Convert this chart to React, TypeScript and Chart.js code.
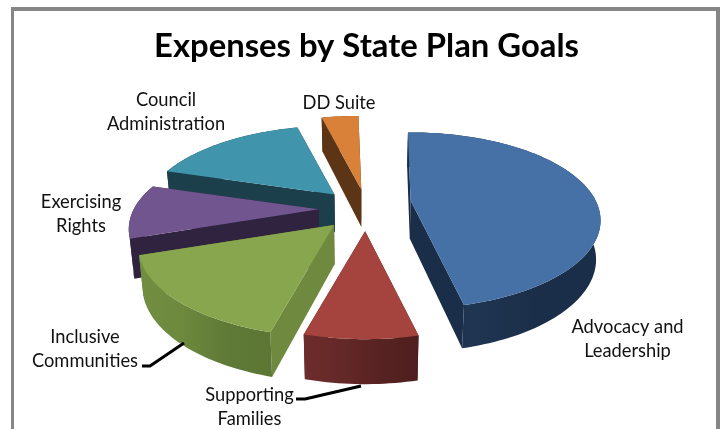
import React, { useEffect, useRef } from "react";
import { Chart, registerables } from "chart.js";

Chart.register(...registerables);

const categories = ["Advocacy and Leadership", "Supporting Families", "Inclusive Communities", "Exercising Rights", "Council Administration", "DD Suite"];
const values = [46.67, 7.78, 15.55, 10, 16.39, 3.61];
const explosion = [25, 25, 25, 25, 25, 25];
const topColors = ["#4571a6", "#a5443f", "#88a64d", "#71558f", "#4095ac", "#d98138"];
const wallColors = ["#1b2e49", "#4f1e1e", "#6f8a3f", "#2f2340", "#1c3f4c", "#5b3516"];
const rimStops = [
  ["#1b2e49", "#1f3552", "#1b2e49", "#1b2e49"],
  ["#6e2c2c", "#642828", "#582222", "#4f1e1e"],
  ["#728e41", "#6d893e", "#5f7a36", "#5c7634"],
  ["#2f2340", "#2f2340", "#2f2340", "#2f2340"],
  ["#1c3f4c", "#1c3f4c", "#1c3f4c", "#1c3f4c"],
  ["#5b3516", "#5b3516", "#5b3516", "#5b3516"],
];
const nudgeX = [0, 1, 2, 0, 0, 2];
const nudgeY = [-6, 0, 0, 0, 0, 0];
const reach = [1, 1, 1.03, 1, 1.01, 1.1];
const paintOrder = [4, 5, 3, 2, 1, 0];
const sliceLabels = [
  { lines: ["Advocacy and", "Leadership"], x: 627.5, y: 333 },
  { lines: ["Supporting", "Families"], x: 249.5, y: 401 },
  { lines: ["Inclusive", "Communities"], x: 85, y: 343 },
  { lines: ["Exercising", "Rights"], x: 81, y: 208 },
  { lines: ["Council", "Administration"], x: 166, y: 106 },
  { lines: ["DD Suite"], x: 339, y: 109 },
];
const leaders = [
  [[142, 366], [150, 366], [184, 343]],
  [[296, 399], [305, 399], [361, 386]],
];

const ORIGIN = { x: 365, y: 209 };
const SCALE = { x: 185, y: 83.5, k: 0.227 };

function project(u: number, v: number) {
  const w = 1 - SCALE.k * v;
  return { x: ORIGIN.x + (SCALE.x * u) / w, y: ORIGIN.y + (SCALE.y * v) / w };
}
function drop(p: { x: number; y: number }) {
  const depth = 34 + 0.05 * (p.y - 119);
  return { x: ORIGIN.x + (p.x - ORIGIN.x) * 0.981, y: p.y + depth };
}
function poly(ctx: CanvasRenderingContext2D, pts: { x: number; y: number }[], fill: any) {
  ctx.beginPath();
  pts.forEach((p, i) => (i ? ctx.lineTo(p.x, p.y) : ctx.moveTo(p.x, p.y)));
  ctx.closePath();
  ctx.fillStyle = fill;
  ctx.fill();
}

const framePlugin = {
  id: "frame",
  beforeDraw(chart: any) {
    const ctx = chart.ctx;
    ctx.save();
    ctx.fillStyle = "#ffffff";
    ctx.fillRect(0, 0, chart.width, chart.height);
    ctx.fillStyle = "#868686";
    ctx.fillRect(11, 7, 709, 4);
    ctx.fillRect(11, 7, 3, 422);
    ctx.fillRect(716, 7, 4, 422);
    ctx.restore();
  },
};

const pie3dPlugin = {
  id: "pie3d",
  beforeDatasetDraw(chart: any, args: any) {
    const ctx = chart.ctx;
    const arcs = chart.getDatasetMeta(args.index).data;
    ctx.save();
    for (const i of paintOrder) {
      const arc = arcs[i];
      const mid = (arc.startAngle + arc.endAngle) / 2;
      const d = (arc.options.offset || 0) / 100;
      const base = project(Math.cos(mid) * d, Math.sin(mid) * d);
      const apex = { x: base.x + nudgeX[i], y: base.y + nudgeY[i] };
      // each slice keeps a local perspective about its own apex
      const local = (a: number) => {
        const q = project(Math.cos(a) * reach[i], Math.sin(a) * reach[i]);
        return { x: apex.x + q.x - ORIGIN.x, y: apex.y + q.y - ORIGIN.y };
      };
      const n = Math.max(8, Math.ceil((arc.endAngle - arc.startAngle) * 40));
      const rim: { x: number; y: number }[] = [];
      for (let s = 0; s <= n; s++) rim.push(local(arc.startAngle + ((arc.endAngle - arc.startAngle) * s) / n));
      const rimLow = rim.map(drop);
      const apexLow = drop(apex);
      const wall = wallColors[i];
      poly(ctx, [apex, rim[0], rimLow[0], apexLow], wall);
      poly(ctx, [apex, rim[n], rimLow[n], apexLow], wall);
      const xs = rim.map((p) => p.x);
      const g = ctx.createLinearGradient(Math.min(...xs), 0, Math.max(...xs), 0);
      const stops = rimStops[i];
      stops.forEach((c, k) => g.addColorStop(k / (stops.length - 1), c));
      poly(ctx, [...rim, ...rimLow.slice().reverse()], g);
      poly(ctx, [apex, ...rim], arc.options.backgroundColor);
    }
    ctx.restore();
    return false;
  },
};

const labelPlugin = {
  id: "sliceLabels",
  afterDraw(chart: any) {
    const ctx = chart.ctx;
    ctx.save();
    ctx.strokeStyle = "#000000";
    ctx.lineWidth = 3;
    ctx.lineJoin = "round";
    for (const line of leaders) {
      ctx.beginPath();
      line.forEach(([x, y], i) => (i ? ctx.lineTo(x, y) : ctx.moveTo(x, y)));
      ctx.stroke();
    }
    ctx.fillStyle = "#111111";
    ctx.font = "18.3px Lato";
    ctx.textAlign = "center";
    ctx.textBaseline = "alphabetic";
    for (const l of sliceLabels) {
      l.lines.forEach((t, k) => ctx.fillText(t, l.x, l.y + k * 23.5));
    }
    ctx.restore();
  },
};

export default function App() {
  const ref = useRef<HTMLCanvasElement>(null);
  useEffect(() => {
    document.body.style.margin = "0";
    const chart = new Chart(ref.current as HTMLCanvasElement, {
      type: "pie",
      data: {
        labels: categories,
        datasets: [{ data: values, backgroundColor: topColors, offset: explosion, borderWidth: 0 }],
      },
      options: {
        responsive: false,
        animation: false,
        rotation: -1,
        layout: { padding: { left: 13 } },
        plugins: {
          legend: { display: false },
          tooltip: { enabled: false },
          title: {
            display: true,
            text: "Expenses by State Plan Goals",
            color: "#000000",
            font: { family: "Lato", size: 32.8, weight: "bold" },
            padding: { top: 27, bottom: 10 },
          },
        },
      },
      plugins: [framePlugin, pie3dPlugin, labelPlugin],
    } as any);
    return () => chart.destroy();
  }, []);
  return <canvas ref={ref} width={720} height={429} style={{ display: "block" }} />;
}
